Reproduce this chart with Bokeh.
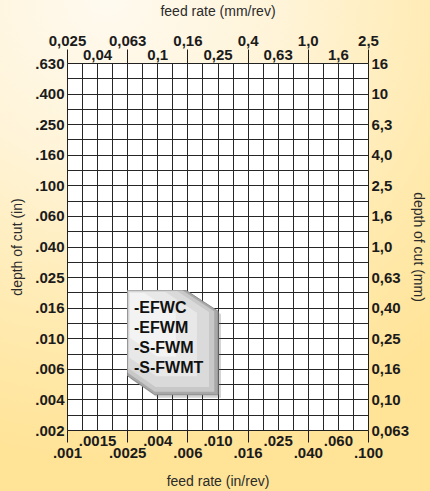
import numpy as np
from bokeh.plotting import figure
from bokeh.models import FixedTicker, LogAxis, Range1d, ColumnDataSource
from bokeh.core.properties import value
from bokeh.embed import file_html
from bokeh.resources import INLINE

# ---- axis tick labels (nominal values printed on the chart) ----
feed_in_labels = [".001", ".0015", ".0025", ".004", ".006", ".010",
                  ".016", ".025", ".040", ".060", ".100"]
feed_mm_labels = ["0,025", "0,04", "0,063", "0,1", "0,16", "0,25",
                  "0,4", "0,63", "1,0", "1,6", "2,5"]
doc_in_labels = [".002", ".004", ".006", ".010", ".016", ".025", ".040",
                 ".060", ".100", ".160", ".250", ".400", ".630"]
doc_mm_labels = ["0,063", "0,10", "0,16", "0,25", "0,40", "0,63", "1,0",
                 "1,6", "2,5", "4,0", "6,3", "10", "16"]
grade_names = ["-EFWC", "-EFWM", "-S-FWM", "-S-FWMT"]

# ---- scale structure: log steps (0.2 decade per labelled tick, 0.1 per grid cell) ----
feed_ticks = [10 ** (-3 + 0.2 * i) for i in range(len(feed_in_labels))]
feed_grid = [10 ** (-3 + 0.1 * i) for i in range(2 * len(feed_in_labels) - 1)]
doc_ticks = [10 ** (-1.2 + 0.2 * i) for i in range(len(doc_mm_labels))]
doc_grid = [10 ** (-1.2 + 0.1 * i) for i in range(2 * len(doc_mm_labels) - 1)]

X_MIN, X_MAX = feed_ticks[0], feed_ticks[-1]
Y_MIN, Y_MAX = doc_ticks[0], doc_ticks[-1]

TICK_FONT = "Liberation Sans"
TITLE_FONT = "Liberation Sans"
INK = "#1b1b1b"

p = figure(width=430, height=491, x_axis_type="log", y_axis_type="log",
           x_range=Range1d(X_MIN, X_MAX), y_range=Range1d(Y_MIN, Y_MAX),
           output_backend="svg", toolbar_location=None,
           min_border_left=67, min_border_right=57,
           min_border_top=62, min_border_bottom=59)
p.background_fill_color = "white"
p.border_fill_alpha = 0
p.outline_line_color = "#222222"
p.styles = {"background": "radial-gradient(ellipse 115% 95% at 25% 0%, #fffaf0 0%, #fff4d8 35%, #ffeab0 70%, #ffe396 100%)"}

# grid: one line per 0.1 decade
p.xgrid.ticker = FixedTicker(ticks=feed_grid)
p.ygrid.ticker = FixedTicker(ticks=doc_grid)
p.grid.grid_line_color = "#262626"
p.grid.grid_line_width = 1
p.grid.grid_line_alpha = 1

def style_axis(ax, size="15px"):
    ax.axis_line_color = None
    ax.major_tick_line_color = None
    ax.major_tick_out = 0
    ax.major_tick_in = 0
    ax.minor_tick_in = 0
    ax.minor_tick_line_color = INK
    ax.major_label_text_font = TICK_FONT
    ax.major_label_text_font_style = "bold"
    ax.major_label_text_font_size = size
    ax.major_label_text_color = INK
    ax.axis_label_text_font = TITLE_FONT
    ax.axis_label_text_font_style = "normal"
    ax.axis_label_text_font_size = "14px"
    ax.axis_label_text_color = "#2b2b2b"

even = [t for i, t in enumerate(feed_ticks) if i % 2 == 0]

# bottom axis: feed rate (in/rev), staggered labels
bx = p.xaxis[0]
bx.ticker = FixedTicker(ticks=feed_ticks, minor_ticks=even)
bx.major_label_overrides = {t: ("\n" + lab if i % 2 == 0 else lab)
                            for i, (t, lab) in enumerate(zip(feed_ticks, feed_in_labels))}
bx.axis_label = "feed rate (in/rev)"
style_axis(bx)
bx.minor_tick_out = 12
bx.major_label_standoff = -11
bx.major_label_text_line_height = 0.72
bx.axis_label_standoff = 9

# top axis: feed rate (mm/rev)
tx = LogAxis(ticker=FixedTicker(ticks=feed_ticks, minor_ticks=even))
tx.major_label_overrides = {t: (lab + "\n" if i % 2 == 0 else lab)
                            for i, (t, lab) in enumerate(zip(feed_ticks, feed_mm_labels))}
tx.axis_label = "feed rate (mm/rev)"
style_axis(tx)
tx.minor_tick_out = 14
tx.major_label_standoff = -13
tx.major_label_text_line_height = 0.78
tx.axis_label_standoff = 10
p.add_layout(tx, "above")

# left axis: depth of cut (in)
ly = p.yaxis[0]
ly.ticker = FixedTicker(ticks=doc_ticks)
ly.major_label_overrides = {t: lab for t, lab in zip(doc_ticks, doc_in_labels)}
ly.axis_label = "depth of cut (in)"
style_axis(ly)
ly.minor_tick_out = 0
ly.major_label_standoff = 3
ly.axis_label_standoff = 7

# right axis: depth of cut (mm)
ry = LogAxis(ticker=FixedTicker(ticks=doc_ticks))
ry.major_label_overrides = {t: lab for t, lab in zip(doc_ticks, doc_mm_labels)}
ry.axis_label = "depth of cut (mm)"
style_axis(ry)
ry.minor_tick_out = 0
ry.major_label_standoff = 3
ry.axis_label_standoff = -1
p.add_layout(ry, "right")

# ---- grade label card (position given in grid cells: col/row = 0.1 decade) ----
def gx(col):
    return X_MIN * 10 ** (0.1 * col)

def gy(row):
    return Y_MAX * 10 ** (-0.1 * row)

L, R, T, B = 4.0, 10.0, 14.85, 21.66
TRC, TRR, BLR, BLC = 7.9, 16.2, 20.43, 5.8

def card(dl=0.0, dt=0.0, dr=0.0, db=0.0, sx=0.0, sy=0.0):
    pts = [(L + dl, T + dt), (TRC - dr, T + dt), (R - dr, TRR + dt),
           (R - dr, B - db), (BLC + dl, B - db), (L + dl, BLR - db)]
    return [gx(c + sx) for c, r in pts], [gy(r + sy) for c, r in pts]

xs, ys = card(sx=0.2, sy=0.2)
p.patch(xs, ys, fill_color="#555555", fill_alpha=0.25, line_color=None)
xs, ys = card()
p.patch(xs, ys, fill_color="#a8a8a8", line_color="#8e8e8e", line_width=1)
xs, ys = card(dr=0.25, db=0.2)
p.patch(xs, ys, fill_color="#c8c8c8", line_color=None)
xs, ys = card(dl=0.05, dt=0.05, dr=0.6, db=0.5)
p.patch(xs, ys, fill_color="#dadada", line_color=None)
xs, ys = card(dl=0.1, dt=0.1, dr=1.4, db=1.2)
p.patch(xs, ys, fill_color="#e8e8e8", line_color=None)
xs, ys = card(dl=0.15, dt=0.15, dr=2.8, db=2.5)
p.patch(xs, ys, fill_color="#f3f3f3", line_color=None)

src = ColumnDataSource(dict(
    x=[gx(L + 0.42)] * len(grade_names),
    y=[gy(T + 1.1 + 1.3 * i) for i in range(len(grade_names))],
    name=grade_names))
p.text(x="x", y="y", text="name", source=src, text_font=value(TITLE_FONT),
       text_font_style="bold", text_font_size="16px", text_color="#111111",
       text_align="left", text_baseline="middle")

open("out.html", "w").write(file_html(p, INLINE))
